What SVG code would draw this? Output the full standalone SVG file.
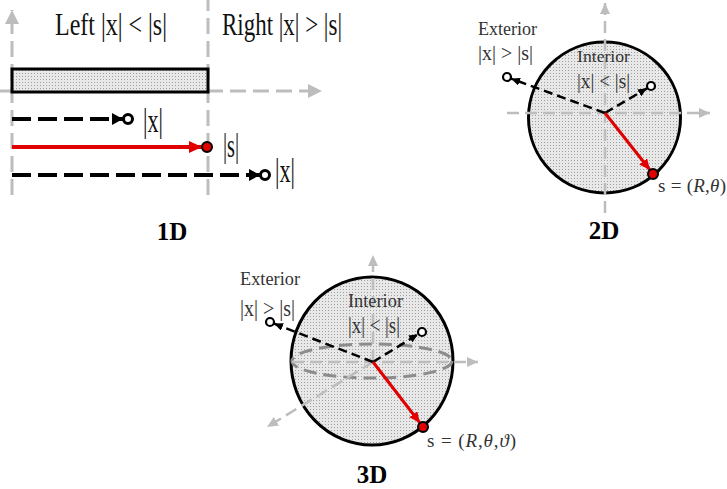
<svg xmlns="http://www.w3.org/2000/svg" width="727" height="489" viewBox="0 0 727 489">
<defs>
<pattern id="stip" width="3" height="3" patternUnits="userSpaceOnUse">
<rect width="3" height="3" fill="#e8e8e8"/>
<rect x="1" y="1" width="1" height="1" fill="#a0a0a0"/>
</pattern>
<marker id="aB" markerUnits="userSpaceOnUse" markerWidth="12" markerHeight="12" refX="11" refY="6" orient="auto"><path d="M0,0 L11,6 L0,12 z" fill="#000"/></marker>
<marker id="aBs" markerUnits="userSpaceOnUse" markerWidth="10" markerHeight="8" refX="9" refY="4" orient="auto"><path d="M0,0 L9,4 L0,8 z" fill="#000"/></marker>
<marker id="aR" markerUnits="userSpaceOnUse" markerWidth="14" markerHeight="12" refX="13" refY="6" orient="auto"><path d="M0,0 L13,6 L0,12 z" fill="#e00000"/></marker>
<marker id="aRs" markerUnits="userSpaceOnUse" markerWidth="12" markerHeight="10" refX="11" refY="5" orient="auto"><path d="M0,0 L11,5 L0,10 z" fill="#e00000"/></marker>
<marker id="aG" markerUnits="userSpaceOnUse" markerWidth="15" markerHeight="14" refX="14" refY="7" orient="auto"><path d="M0,0 L14,7 L0,14 z" fill="#bdbdbd"/></marker>
<marker id="aGs" markerUnits="userSpaceOnUse" markerWidth="12" markerHeight="10" refX="11" refY="5" orient="auto"><path d="M0,0 L11,5 L0,10 z" fill="#bdbdbd"/></marker>
</defs>
<style>
.t{font-family:"Liberation Serif","Times New Roman",serif;fill:#111}
.lab{font-family:"Liberation Serif","Times New Roman",serif;fill:#333}
.ttl{font-family:"Liberation Serif","Times New Roman",serif;font-weight:bold;fill:#000;font-size:25px;text-anchor:middle}
.ax{stroke:#bdbdbd;stroke-width:3;fill:none;stroke-dasharray:16 7}
.ax2{stroke:#bdbdbd;stroke-width:2.5;fill:none;stroke-dasharray:12 6}
.bd{stroke:#000;stroke-width:4;fill:none;stroke-dasharray:19 7}
.bd2{stroke:#000;stroke-width:2.5;fill:none;stroke-dasharray:9 5}
.red{stroke:#e00000;stroke-width:4;fill:none}
.red2{stroke:#e00000;stroke-width:3;fill:none}
.oc{fill:#fff;stroke:#000;stroke-width:3}
.oc2{fill:#fff;stroke:#000;stroke-width:2.2}
.rd{fill:#e00000;stroke:#000;stroke-width:2}
.shape{fill:url(#stip);stroke:#000;stroke-width:3}
</style>

<!-- 1D panel -->
<g id="axes-1d">
<line class="ax" x1="12" y1="195" x2="12" y2="10" marker-end="url(#aG)"/>
<line class="ax" x1="208" y1="195" x2="208" y2="0"/>
<line class="ax" x1="0" y1="91" x2="322" y2="91" marker-end="url(#aG)"/>
</g>
<g id="segment-1d">
<rect class="shape" x="12" y="69" width="196" height="23" stroke-width="4"/>
</g>
<g id="labels-1d">
<text class="t" x="55" y="35" font-size="31" textLength="112" lengthAdjust="spacingAndGlyphs">Left |x| &lt; |s|</text>
<text class="t" x="222" y="35" font-size="31" textLength="120" lengthAdjust="spacingAndGlyphs">Right |x| &gt; |s|</text>
<text class="t" x="143" y="132" font-size="33" textLength="20" lengthAdjust="spacingAndGlyphs">|x|</text>
<text class="t" x="223" y="157" font-size="33" textLength="16" lengthAdjust="spacingAndGlyphs">|s|</text>
<text class="t" x="275" y="182" font-size="33" textLength="20" lengthAdjust="spacingAndGlyphs">|x|</text>
<text class="ttl" x="172" y="240">1D</text>
</g>

<!-- 2D panel -->
<g id="disk-2d">
<ellipse class="shape" cx="604.5" cy="117.5" rx="76" ry="75.5"/>
</g>
<g id="axes-2d">
<line class="ax2" x1="507" y1="113" x2="710" y2="113" marker-end="url(#aGs)"/>
<line class="ax2" x1="605" y1="213" x2="605" y2="3" marker-end="url(#aGs)"/>
</g>
<g id="labels-2d">
<text class="lab" x="478" y="35" font-size="18" textLength="59" lengthAdjust="spacingAndGlyphs">Exterior</text>
<text class="lab" x="478" y="60" font-size="22" textLength="55" lengthAdjust="spacingAndGlyphs">|x| &gt; |s|</text>
<text class="lab" x="577" y="62" font-size="17.5" textLength="53" lengthAdjust="spacingAndGlyphs">Interior</text>
<text class="lab" x="577" y="88" font-size="22" textLength="53" lengthAdjust="spacingAndGlyphs">|x| &lt; |s|</text>
<text class="lab" x="658" y="192" font-size="19" textLength="68" lengthAdjust="spacing">s = (<tspan font-style="italic">R</tspan>,<tspan font-style="italic">θ</tspan>)</text>
<text class="ttl" x="604" y="239">2D</text>
</g>

<!-- 3D panel -->
<g id="ball-3d">
<ellipse class="shape" cx="372" cy="361" rx="81" ry="84"/>
</g>
<g id="axes-3d">
<ellipse cx="372" cy="361" rx="80" ry="17" fill="none" stroke="#8c8c8c" stroke-width="3" stroke-dasharray="13 7"/>
<line class="ax2" x1="373" y1="362" x2="373" y2="255" marker-end="url(#aGs)"/>
<line class="ax2" x1="292" y1="362" x2="478" y2="362" marker-end="url(#aGs)"/>
<line class="ax2" x1="373" y1="362" x2="267" y2="427" marker-end="url(#aGs)"/>
</g>
<g id="labels-3d">
<text class="lab" x="240" y="285" font-size="18.5" textLength="60" lengthAdjust="spacingAndGlyphs">Exterior</text>
<text class="lab" x="240" y="316" font-size="23" textLength="55" lengthAdjust="spacingAndGlyphs">|x| &gt; |s|</text>
<text class="lab" x="348" y="307" font-size="18.5" textLength="55" lengthAdjust="spacingAndGlyphs">Interior</text>
<text class="lab" x="348" y="333" font-size="23" textLength="52" lengthAdjust="spacingAndGlyphs">|x| &lt; |s|</text>
<text class="lab" x="427" y="447" font-size="19" textLength="89" lengthAdjust="spacing">s = (<tspan font-style="italic">R</tspan>,<tspan font-style="italic">θ</tspan>,<tspan font-style="italic">ϑ</tspan>)</text>
<text class="ttl" x="372" y="483">3D</text>
</g>

<!-- connectors -->
<g id="connectors">
<line class="bd" x1="12" y1="119" x2="123" y2="119" marker-end="url(#aB)"/>
<line class="red" x1="12" y1="147" x2="202" y2="147" marker-end="url(#aR)"/>
<line class="bd" x1="12" y1="175" x2="260" y2="175" marker-end="url(#aB)"/>
<circle class="oc" cx="128" cy="119" r="4.5"/>
<circle class="rd" cx="207" cy="147" r="5"/>
<circle class="oc" cx="265" cy="175" r="4.5"/>

<line class="bd2" x1="605" y1="113" x2="511" y2="78.6" marker-end="url(#aBs)"/>
<line class="bd2" x1="605" y1="113" x2="647" y2="88.3" marker-end="url(#aBs)"/>
<line class="red2" x1="605" y1="113" x2="650" y2="170" marker-end="url(#aRs)"/>
<circle class="oc2" cx="507" cy="77" r="4"/>
<circle class="oc2" cx="651" cy="86" r="4"/>
<circle class="rd" cx="653" cy="174" r="5"/>

<line class="bd2" x1="373" y1="362" x2="274" y2="323.6" marker-end="url(#aBs)"/>
<line class="bd2" x1="373" y1="362" x2="418" y2="334.3" marker-end="url(#aBs)"/>
<line class="red2" x1="373" y1="362" x2="420" y2="423" marker-end="url(#aRs)"/>
<circle class="oc2" cx="270" cy="322" r="4"/>
<circle class="oc2" cx="422" cy="332" r="4"/>
<circle class="rd" cx="423" cy="427" r="5"/>
</g>
</svg>
